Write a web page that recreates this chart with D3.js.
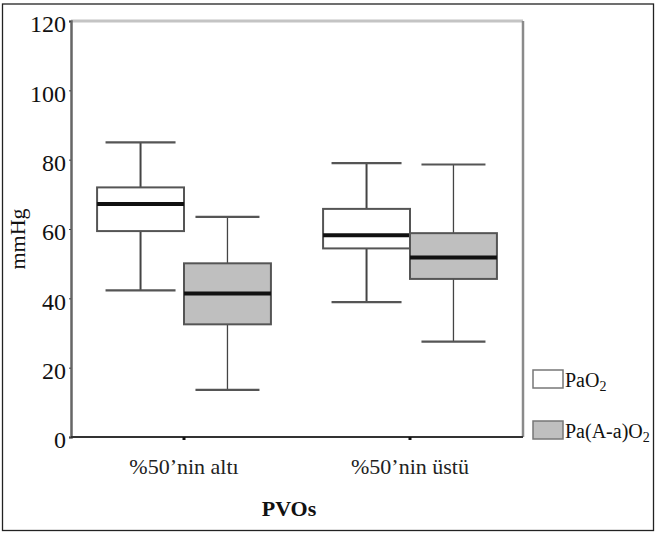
<!DOCTYPE html>
<html><head><meta charset="utf-8">
<script src="https://cdn.jsdelivr.net/npm/d3@7"></script>
<style>body{margin:0;background:#fff}svg{display:block}</style>
</head><body>
<script>
const categories = ["%50’nin altı", "%50’nin üstü"];
const seriesNames = ["PaO2", "Pa(A-a)O2"];
const seriesColors = ["#ffffff", "#bfbfbf"];
// [lowerWhisker, q1, median, q3, upperWhisker] per category
const pao2 = [[42.3, 59.4, 67.2, 72.0, 85.0], [38.9, 54.4, 58.2, 65.8, 79.0]];
const paAa = [[13.6, 32.5, 41.4, 50.1, 63.5], [27.5, 45.6, 51.8, 58.8, 78.6]];
const yTicks = [0, 20, 40, 60, 80, 100, 120];

const W = 656, H = 533;
const svg = d3.select("body").append("svg").attr("width", W).attr("height", H);
svg.append("rect").attr("x", 2.5).attr("y", 4).attr("width", 651).attr("height", 526.5)
  .attr("fill", "none").attr("stroke", "#222").attr("stroke-width", 1.3);

const m = {l: 71, r: 523, t: 21, b: 437};
const x = d3.scaleBand().domain(categories).range([m.l, m.r]);
const xs = d3.scaleBand().domain(seriesNames).range([0, x.bandwidth()]).paddingOuter(0.3);
const y = d3.scaleLinear().domain([0, 120]).range([m.b, m.t]);

// frame
svg.append("line").attr("x1", m.l).attr("x2", m.r).attr("y1", m.t).attr("y2", m.t).attr("stroke", "#c4c4c4").attr("stroke-width", 3);
svg.append("line").attr("x1", m.r).attr("x2", m.r).attr("y1", m.t).attr("y2", m.b).attr("stroke", "#8a8a8a").attr("stroke-width", 2.5);

const font = "'Liberation Serif', 'DejaVu Serif', serif";
const data = [pao2, paAa];
data.forEach((ser, si) => {
  ser.forEach((d, ci) => {
    const x0 = x(categories[ci]) + xs(seriesNames[si]);
    const bw = xs.bandwidth();
    const cx = x0 + bw / 2;
    const g = svg.append("g");
    const capW = si === 0 ? 70 : 64;
    g.append("line").attr("x1", cx).attr("x2", cx).attr("y1", y(d[4])).attr("y2", y(d[3])).attr("stroke", "#444").attr("stroke-width", si === 0 ? 2 : 1.3);
    g.append("line").attr("x1", cx).attr("x2", cx).attr("y1", y(d[1])).attr("y2", y(d[0])).attr("stroke", "#444").attr("stroke-width", si === 0 ? 2 : 1.3);
    g.append("line").attr("x1", cx - capW / 2).attr("x2", cx + capW / 2).attr("y1", y(d[4])).attr("y2", y(d[4])).attr("stroke", "#555").attr("stroke-width", 2.2);
    g.append("line").attr("x1", cx - capW / 2).attr("x2", cx + capW / 2).attr("y1", y(d[0])).attr("y2", y(d[0])).attr("stroke", "#555").attr("stroke-width", 2.2);
    g.append("rect").attr("x", x0).attr("y", y(d[3])).attr("width", bw).attr("height", y(d[1]) - y(d[3]))
      .attr("fill", seriesColors[si]).attr("stroke", "#555").attr("stroke-width", 2);
    g.append("line").attr("x1", x0).attr("x2", x0 + bw).attr("y1", y(d[2])).attr("y2", y(d[2])).attr("stroke", "#111").attr("stroke-width", 4);
  });
});

// axes
const ya = svg.append("g").attr("transform", `translate(${m.l},0)`)
  .call(d3.axisLeft(y).tickValues(yTicks).tickSize(2).tickPadding(3));
ya.select(".domain").attr("stroke", "#666").attr("stroke-width", 2.5);
ya.selectAll(".tick line").attr("stroke", "#444");
ya.selectAll("text").attr("font-family", font).attr("font-size", 24).attr("fill", "#111").attr("dy", "0.45em");

const xa = svg.append("g").attr("transform", `translate(0,${m.b})`)
  .call(d3.axisBottom(x).tickSize(3).tickPadding(18));
xa.select(".domain").attr("stroke", "#333").attr("stroke-width", 2).attr("d", `M${m.l},0H${m.r}`);
xa.selectAll(".tick line").attr("stroke", "#111").attr("stroke-width", 3);
xa.selectAll("text").attr("font-family", font).attr("font-size", 22).attr("fill", "#222");

svg.append("text").attr("transform", `translate(25,${(m.t + m.b) / 2 + 10}) rotate(-90)`)
  .attr("text-anchor", "middle").attr("font-family", font).attr("font-size", 22).attr("fill", "#111").text("mmHg");
svg.append("text").attr("x", 289).attr("y", 516).attr("text-anchor", "middle").attr("font-family", font)
  .attr("font-size", 22).attr("font-weight", "bold").attr("fill", "#111").text("PVOs");

// legend
const leg = svg.append("g");
seriesNames.forEach((s, i) => {
  const yy = 370 + i * 51;
  leg.append("rect").attr("x", 533).attr("y", yy).attr("width", 30).attr("height", 18)
    .attr("fill", seriesColors[i]).attr("stroke", "#777").attr("stroke-width", 1.5);
  const t = leg.append("text").attr("x", 565).attr("y", yy + 17).attr("font-family", font).attr("font-size", 20).attr("fill", "#111");
  t.append("tspan").text(s.slice(0, -1));
  t.append("tspan").attr("font-size", 14).attr("dy", 4).text(s.slice(-1));
});
</script>
</body></html>
